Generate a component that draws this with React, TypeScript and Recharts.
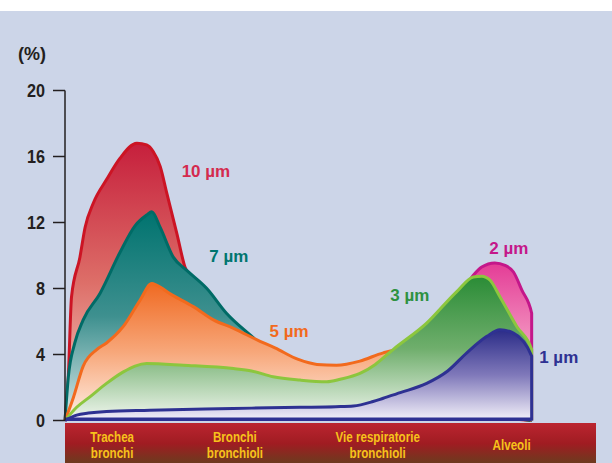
import React from 'react';
import { ComposedChart, Area, XAxis, YAxis, ReferenceDot, ReferenceLine } from 'recharts';

// position along the airways (0 = trachea, 100 = end of alveoli) vs deposition %
const um10 = [
  [0, 0], [0.7, 2.6], [1.4, 7.5], [3.2, 9.9], [4.3, 11.7], [6.1, 13.2], [8.9, 14.6], [11.8, 15.9],
  [15.4, 16.8], [17.5, 16.7], [18.9, 16.3], [20.4, 15.4], [21.8, 13.8], [24.0, 11.3], [25.7, 9.3],
  [28, 8.3], [33, 6.4], [40, 4.0], [50, 2.5], [60, 1.5], [80, 0.5], [100, 0],
];
const um7 = [
  [0, 0], [0.7, 2.6], [2.1, 4.7], [3.9, 6.1], [7.5, 7.7], [11.8, 10.2], [15, 11.8], [17.5, 12.45],
  [18.6, 12.65], [20.4, 11.7], [23.2, 9.9], [26.1, 9.1], [30.4, 8.0], [34.6, 6.5], [39.6, 5.2],
  [42.5, 4.5], [48, 3.5], [58, 2.2], [72, 1.2], [100, 0],
];
const um5 = [
  [0, 0], [1.8, 1.4], [3.9, 3.3], [6.8, 4.3], [8.9, 4.7], [12.5, 5.7], [16.1, 7.3], [18.6, 8.3],
  [19.6, 8.2], [23, 7.6], [27.5, 6.9], [31.8, 6.1], [36, 5.6], [41.8, 4.8], [45, 4.4], [50, 3.7],
  [54, 3.4], [58.2, 3.35], [63.2, 3.6], [68.2, 4.1], [72, 4.3], [80, 3.5], [90, 2], [100, 0],
];
const um2 = [
  [0, 0], [5, 1.0], [15, 2.2], [30, 2.3], [50, 2.0], [60, 2.1], [70, 3.4], [78, 5.2], [84, 7.2],
  [87.5, 8.8], [89.3, 9.3], [92.1, 9.55], [94.3, 9.4], [96.1, 9.0], [97.9, 7.9], [100, 6.5], [100, 0],
];
const um3 = [
  [0, 0], [2.5, 0.8], [5.4, 1.45], [8.9, 2.25], [12.5, 2.95], [15, 3.3], [17.5, 3.45], [25.4, 3.35],
  [36.1, 3.15], [40, 3.0], [44.6, 2.65], [50.4, 2.45], [56.1, 2.35], [59, 2.5], [63.2, 2.85],
  [66.5, 3.4], [70.3, 4.3], [77.5, 5.9], [83.9, 7.8], [87.5, 8.7], [89.3, 8.75], [91.1, 8.5],
  [93.2, 7.5], [96.8, 5.7], [100, 4.3], [100, 0],
];
const um1 = [
  [0, 0], [2.5, 0.33], [5, 0.45], [8.9, 0.55], [18.2, 0.62], [30, 0.7], [40, 0.75], [50.4, 0.8],
  [58, 0.84], [61.8, 0.88], [66, 1.15], [68.2, 1.35], [72, 1.7], [77.5, 2.25], [82, 3.0], [86.1, 4.1],
  [90.4, 5.1], [93.2, 5.5], [96.1, 5.3], [100, 3.9], [100, 0],
];

const yTicks = [0, 4, 8, 12, 16, 20];
const regionTicks = [10.1, 36.4, 67.0, 95.7];
const regionLabels = [['Trachea', 'bronchi'], ['Bronchi', 'bronchioli'], ['Vie respiratorie', 'bronchioli'], ['Alveoli']];

const toRows = (pts: number[][]) => pts.map(([x, y]) => ({ x, y }));

const SANS = "'Liberation Sans', Arial, sans-serif";

const series = [
  { key: '10', data: um10, stroke: '#cc1424', grad: ['#c61f3c', '#dd6e68', '#f6d2c8'] },
  { key: '7', data: um7, stroke: '#006b66', grad: ['#00736f', '#3e908f', '#dceaea'] },
  { key: '5', data: um5, stroke: '#f26a1d', grad: ['#f06a22', '#f7a77a', '#fff1e8'] },
  { key: '2', data: um2, stroke: '#c4178a', grad: ['#e43c96', '#f293c0', '#fbdcea'] },
  { key: '3', data: um3, stroke: '#8cc63e', grad: ['#2a8c36', '#6fae6c', '#f2f7f0'] },
  { key: '1', data: um1, stroke: '#2e3192', grad: ['#2b2c88', '#8079ba', '#f4f2fa'] },
];

// condensed look: Liberation Sans Bold squeezed horizontally
const RegionTick = (props: any) => {
  const { x, y, payload } = props;
  const lines = regionLabels[payload.index] || [];
  const offs = lines.length === 1 ? [29.5] : [21, 37.5];
  return (
    <g>
      {lines.map((l, i) => (
        <text key={i} transform={`translate(${x},${y + offs[i]}) scale(0.83,1)`} textAnchor="middle" fill="#f7c21b"
          style={{ fontFamily: SANS, fontWeight: 700, fontSize: 14 }}>{l}</text>
      ))}
    </g>
  );
};

const PercentTick = (props: any) => {
  const { x, y, payload } = props;
  return (
    <text transform={`translate(${x},${y + 6.5}) scale(0.9,1)`} textAnchor="end" fill="#231f20"
      style={{ fontFamily: SANS, fontWeight: 700, fontSize: 18 }}>{payload.value}</text>
  );
};

export default function App() {
  return (
    <div style={{ position: 'absolute', left: 0, top: 0, width: 612, height: 463, background: '#ccd5e8', overflow: 'hidden' }}>
      <div style={{ position: 'absolute', left: 0, top: 0, width: 612, height: 11, background: '#ffffff' }} />
      <div style={{
        position: 'absolute', left: 65, top: 422.5, width: 531, height: 41,
        background: 'linear-gradient(to bottom, #bb2530 0%, #a01c22 50%, #6a3c1e 100%)',
      }} />
      <div style={{ position: 'absolute', left: 0, top: 0 }}>
        <ComposedChart width={612} height={463} margin={{ top: 90.5, right: 15, bottom: 2.5, left: 5 }}>
          <defs>
            {series.map((s) => (
              <linearGradient key={s.key} id={`g${s.key}`} x1="0" y1="0" x2="0" y2="1">
                <stop offset="0%" stopColor={s.grad[0]} />
                <stop offset="50%" stopColor={s.grad[1]} />
                <stop offset="100%" stopColor={s.grad[2]} />
              </linearGradient>
            ))}
          </defs>
          <XAxis dataKey="x" type="number" domain={[0, 114]} ticks={regionTicks} axisLine={false}
            tickLine={false} tickSize={0} tickMargin={0} height={40} tick={<RegionTick />} interval={0} />
          <YAxis type="number" domain={[0, 20]} ticks={yTicks} width={60} interval={0}
            axisLine={{ stroke: '#231f20', strokeWidth: 1.5 }} tickLine={{ stroke: '#231f20', strokeWidth: 1.5 }}
            tickSize={12} tickMargin={8} tick={<PercentTick />}
            label={{ value: '(%)', position: 'top', offset: 31, dx: -3, fill: '#231f20', fontSize: 18, fontWeight: 700, fontFamily: SANS }} />
          {series.map((s) => (
            <Area key={s.key} data={toRows(s.data)} dataKey="y" type="monotone" stroke={s.stroke}
              strokeWidth={3} fill={`url(#g${s.key})`} fillOpacity={1} isAnimationActive={false}
              dot={false} activeDot={false} strokeLinejoin="round" />
          ))}
          <ReferenceLine segment={[{ x: 0, y: 0.08 }, { x: 100, y: 0.08 }]} stroke="#2e3192" strokeWidth={3.5} />
          <ReferenceDot x={30.2} y={15.1} r={0} stroke="none" label={{ value: '10 µm', position: 'center', fill: '#d42a4e', fontSize: 17, fontWeight: 700, fontFamily: SANS }} />
          <ReferenceDot x={35.1} y={10.0} r={0} stroke="none" label={{ value: '7 µm', position: 'center', fill: '#00756f', fontSize: 17, fontWeight: 700, fontFamily: SANS }} />
          <ReferenceDot x={48.0} y={5.4} r={0} stroke="none" label={{ value: '5 µm', position: 'center', fill: '#f26a1d', fontSize: 17, fontWeight: 700, fontFamily: SANS }} />
          <ReferenceDot x={95.1} y={10.45} r={0} stroke="none" label={{ value: '2 µm', position: 'center', fill: '#c4178a', fontSize: 17, fontWeight: 700, fontFamily: SANS }} />
          <ReferenceDot x={73.9} y={7.6} r={0} stroke="none" label={{ value: '3 µm', position: 'center', fill: '#2e9140', fontSize: 17, fontWeight: 700, fontFamily: SANS }} />
          <ReferenceDot x={105.8} y={3.87} r={0} stroke="none" label={{ value: '1 µm', position: 'center', fill: '#2e3192', fontSize: 17, fontWeight: 700, fontFamily: SANS }} />
        </ComposedChart>
      </div>
    </div>
  );
}
